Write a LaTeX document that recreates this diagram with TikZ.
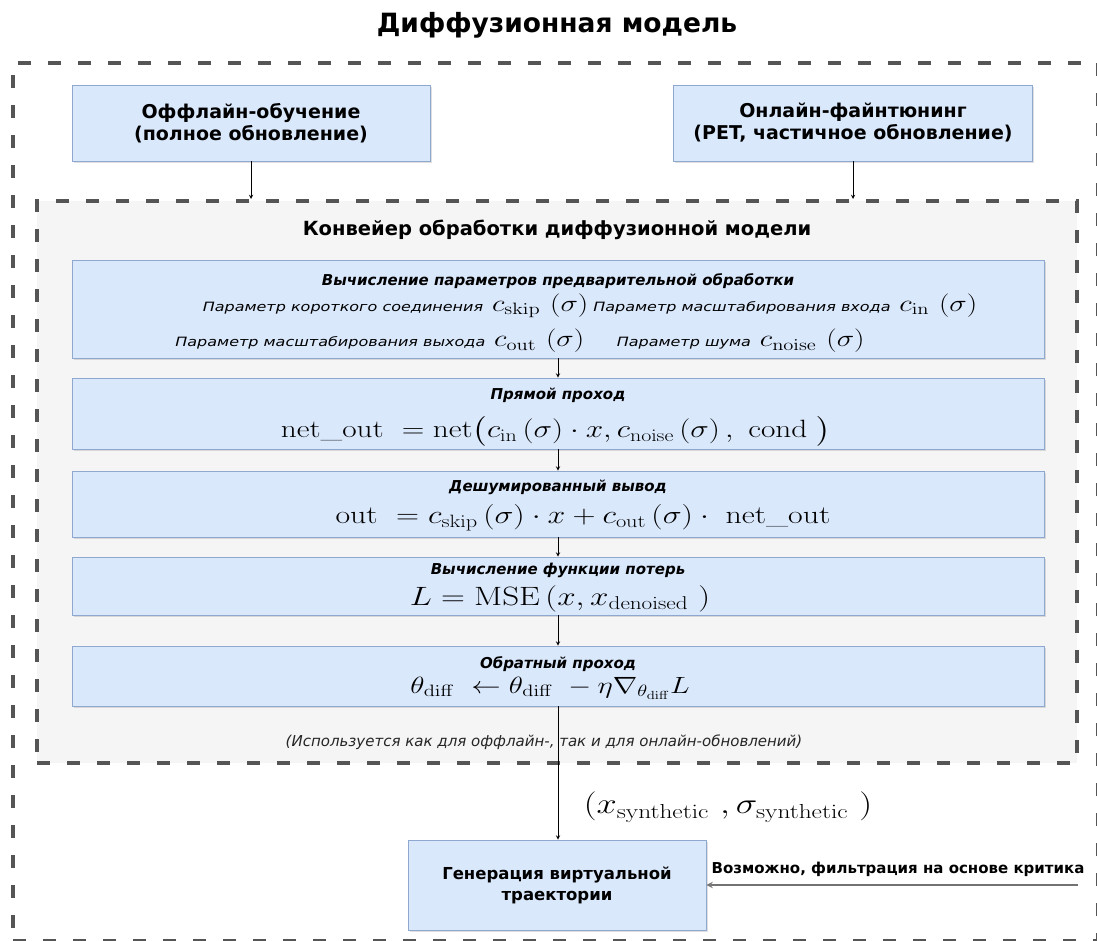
\RequirePackage{fix-cm}
\documentclass[tikz,border=0pt]{standalone}
\usepackage[no-math]{fontspec}
\usepackage{amsmath}
\usepackage{graphicx}
\usetikzlibrary{shadows}
\newfontfamily\dejavu{DejaVu Sans}
\definecolor{boxblue}{HTML}{DAE8FC}
\definecolor{boxline}{HTML}{8FA8CF}
\definecolor{pipegray}{HTML}{F5F5F5}
\definecolor{dashgray}{HTML}{555555}
\newcommand{\paramlabel}[1]{{\dejavu\itshape\fontsize{12.8}{16}\selectfont #1}}
\newcommand{\stretchx}[1]{\scalebox{1.25}[1]{#1}}

\begin{document}
\begin{tikzpicture}[x=1pt,y=-1pt,
    stagebox/.style={draw=boxline,fill=boxblue,line width=0.8pt,inner sep=0pt,
        drop shadow={opacity=0.25,shadow xshift=1.5pt,shadow yshift=-2pt}},
    dashbox/.style={draw=dashgray,line width=4pt,dash pattern=on 13pt off 17pt,inner sep=0pt},
    boxtext/.style={font=\dejavu\bfseries\fontsize{19}{22}\selectfont,align=center},
    subtitle/.style={font=\dejavu\bfseries\itshape\fontsize{15}{17}\selectfont,inner sep=0pt},
    formula/.style={inner sep=0pt},
    flow/.style={-stealth,black,line width=0.9pt}]
    \useasboundingbox (0,0) rectangle (1097,941);

    %Titel
    \node[font=\dejavu\bfseries\fontsize{26.5}{30}\selectfont] (title) at (557,25) {Диффузионная модель};
    \node[dashbox,minimum width=1085pt,minimum height=878pt] (outer) at (555.5,502) {};

    %Training
    \node[stagebox,boxtext,minimum width=358pt,minimum height=76pt] (offline) at (251,123) {Оффлайн-обучение\\(полное обновление)};
    \node[stagebox,boxtext,minimum width=359pt,minimum height=76pt] (online) at (853,123) {Онлайн-файнтюнинг\\(PET, частичное обновление)};

    %Konveier
    \node[dashbox,fill=pipegray,minimum width=1040pt,minimum height=562pt] (pipe) at (557,482) {};
    \node[font=\dejavu\bfseries\fontsize{19.5}{22}\selectfont] (pipetitle) at (557,230) {Конвейер обработки диффузионной модели};

    \node[stagebox,minimum width=972pt,minimum height=98pt] (precond) at (558,309) {};
    \node[subtitle] (precondtitle) at (558,281) {Вычисление параметров предварительной обработки};
    \node[formula,font=\fontsize{23.5}{28}\selectfont] (precondA) at (590,306) {\stretchx{\paramlabel{Параметр короткого соединения} $c_{\mathrm{skip}}\,\left(\sigma\right)\,$\paramlabel{Параметр масштабирования входа} $c_{\mathrm{in}}\,\left(\sigma\right)$}};
    \node[formula,font=\fontsize{23.5}{28}\selectfont] (precondB) at (520,341) {\stretchx{\paramlabel{Параметр масштабирования выхода} $c_{\mathrm{out}}\,\left(\sigma\right)$\hspace{26pt}\paramlabel{Параметр шума} $c_{\mathrm{noise}}\,\left(\sigma\right)$}};

    \node[stagebox,minimum width=972pt,minimum height=71pt] (forward) at (558,413.5) {};
    \node[subtitle] (forwardtitle) at (558,395) {Прямой проход};
    \node[formula,font=\fontsize{25}{30}\selectfont] (forwardeq) at (556,431) {\stretchx{$\mathrm{net\_out}\ = \mathrm{net}\bigl(c_{\mathrm{in}}\left(\sigma\right)\cdot x, c_{\mathrm{noise}}\left(\sigma\right),\ \mathrm{cond}\ \bigr)$}};

    \node[stagebox,minimum width=972pt,minimum height=66pt] (denoise) at (558,504) {};
    \node[subtitle] (denoisetitle) at (558,487) {Дешумированный вывод};
    \node[formula,font=\fontsize{25.5}{30}\selectfont] (denoiseeq) at (583,518) {\stretchx{$\mathrm{out}\ = c_{\mathrm{skip}}\left(\sigma\right)\cdot x + c_{\mathrm{out}}\left(\sigma\right)\cdot\ \mathrm{net\_out}$}};

    \node[stagebox,minimum width=972pt,minimum height=58pt] (loss) at (558,586) {};
    \node[subtitle] (losstitle) at (558,570) {Вычисление функции потерь};
    \node[formula,font=\fontsize{26.5}{30}\selectfont] (losseq) at (560,599) {\stretchx{$L = \mathrm{MSE}\left(x, x_{\mathrm{denoised}}\ \right)$}};

    \node[stagebox,minimum width=972pt,minimum height=60pt] (backward) at (558,676) {};
    \node[subtitle] (backwardtitle) at (558,664) {Обратный проход};
    \node[formula,font=\fontsize{23.5}{28}\selectfont] (backwardeq) at (550,688) {\stretchx{$\theta_{\mathrm{diff}}\ \leftarrow \theta_{\mathrm{diff}}\ - \eta\nabla_{\theta_{\mathrm{diff}}} L$}};

    \node[font=\dejavu\itshape\fontsize{15}{17}\selectfont,text=black!85] (caption) at (544,742) {(Используется как для оффлайн-, так и для онлайн-обновлений)};

    %Generierung
    \node[stagebox,boxtext,font=\dejavu\bfseries\fontsize{16.5}{21}\selectfont,minimum width=298pt,minimum height=90pt] (gen) at (557,885) {Генерация виртуальной\\траектории};
    \node[formula,font=\fontsize{29}{32}\selectfont] (synth) at (728,807) {\stretchx{$\left(x_{\mathrm{synthetic}}\ , \sigma_{\mathrm{synthetic}}\ \right)$}};
    \coordinate (critic) at (1078,885);
    \node[font=\dejavu\bfseries\fontsize{15}{17}\selectfont,anchor=east] (criticlabel) at (1088,869) {Возможно, фильтрация на основе критика};

    \draw[flow] (offline.south) -- (offline.south |- pipe.north);
    \draw[flow] (online.south) -- (online.south |- pipe.north);
    \draw[flow] (precond.south) -- (forward.north);
    \draw[flow] (forward.south) -- (denoise.north);
    \draw[flow] (denoise.south) -- (loss.north);
    \draw[flow] (loss.south) -- (backward.north);
    \draw[flow] (backward.south) -- (backward.south |- gen.north);
    \draw[-stealth,black!55,line width=1.8pt] (critic) -- (gen.east);
\end{tikzpicture}
\end{document}
